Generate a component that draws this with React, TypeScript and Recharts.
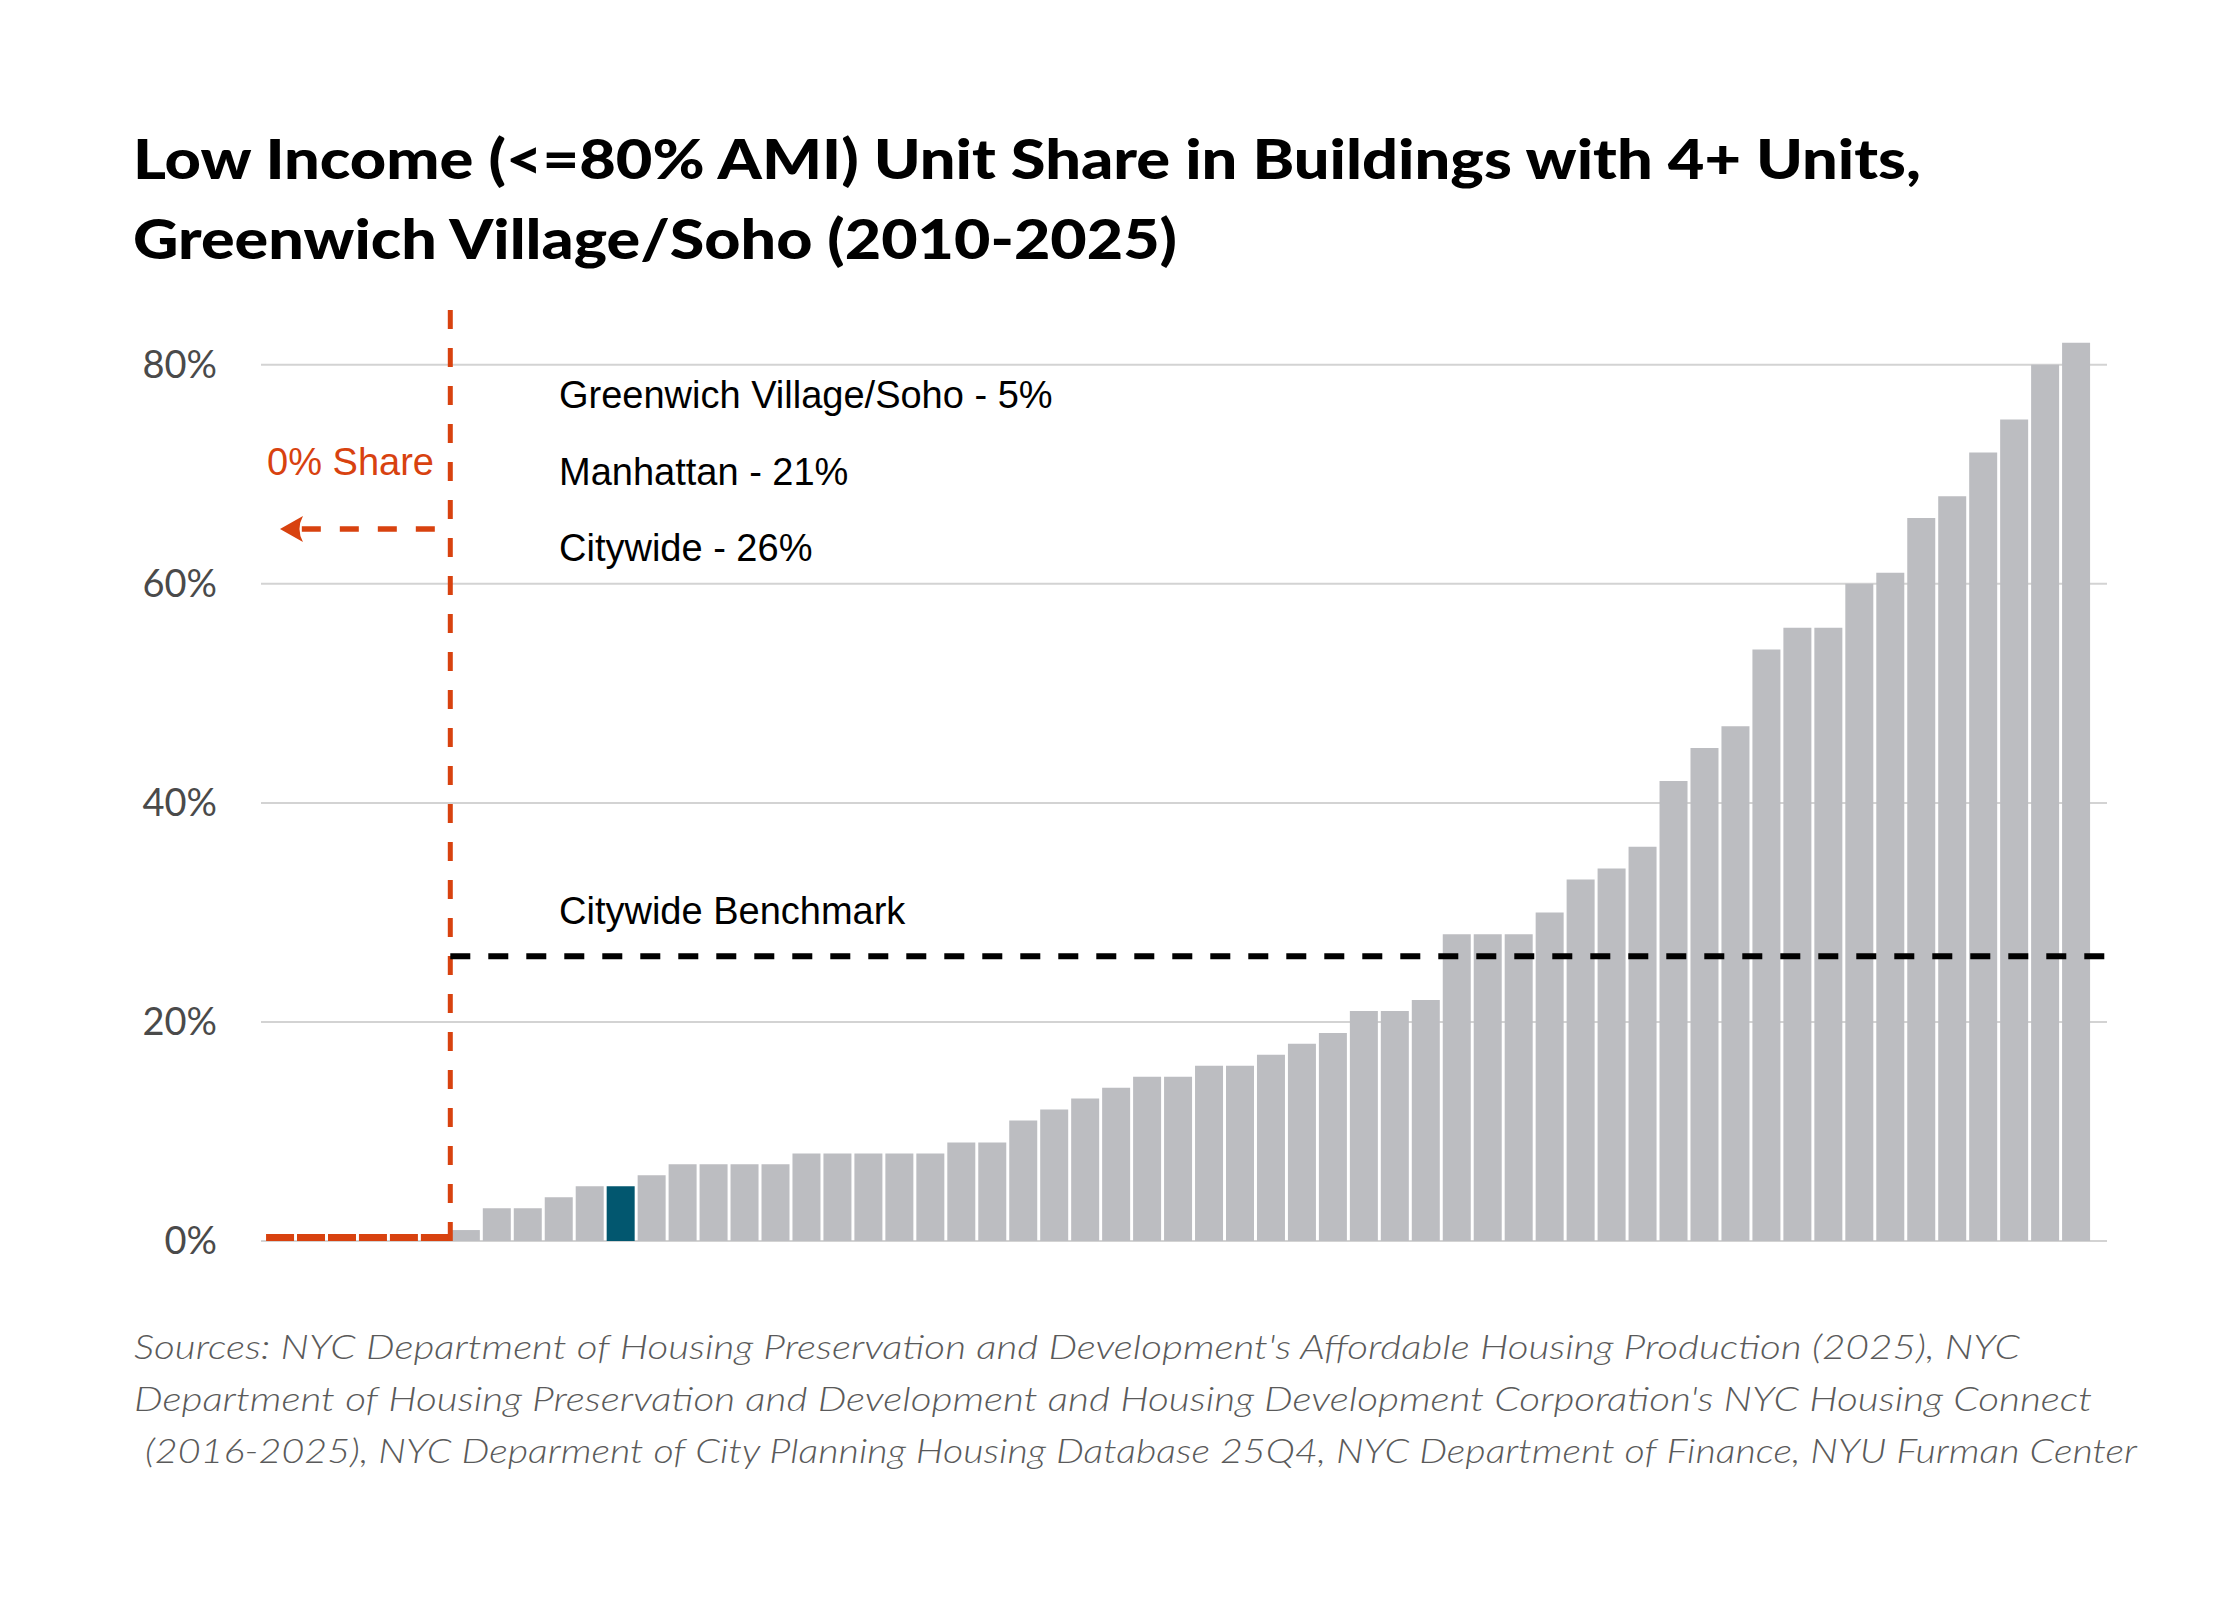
import React from "react";
import { BarChart, Bar, Cell, XAxis, YAxis, CartesianGrid, ReferenceLine } from "recharts";

// share of low income units, community districts sorted ascending (first six are 0%)
const shares = [
  0, 0, 0, 0, 0, 0,
  1, 3, 3, 4, 5, 5, 6, 7, 7, 7, 7, 8, 8, 8, 8, 8, 9, 9, 11, 12, 13, 14, 15, 15,
  16, 16, 17, 18, 19, 21, 21, 22, 28, 28, 28, 30, 33, 34, 36, 42, 45, 47, 54, 56,
  56, 60, 61, 66, 68, 72, 75, 80, 82,
];
const HIGHLIGHT_INDEX = 11; // Greenwich Village/Soho
const BENCHMARK = 26;
const yTicks = [0, 20, 40, 60, 80];
const notes = ["Greenwich Village/Soho - 5%", "Manhattan - 21%", "Citywide - 26%"];
const titleLines = [
  "Low Income (<=80% AMI) Unit Share in Buildings with 4+ Units,",
  "Greenwich Village/Soho (2010-2025)",
];
const sourceLines = [
  "Sources: NYC Department of Housing Preservation and Development's Affordable Housing Production (2025), NYC",
  "Department of Housing Preservation and Development and Housing Development Corporation's NYC Housing Connect",
  "(2016-2025), NYC Deparment of City Planning Housing Database 25Q4, NYC Department of Finance, NYU Furman Center",
];

const GRAY = "#bcbdc1";
const TEAL = "#02576f";
const ORANGE = "#d8420f";
const X_PAD = { left: 3.5, right: 15.5 };

const data = shares.map((v, i) => ({ id: i, share: v }));
const firstNonZero = shares.findIndex((v) => v > 0);
const lastIndex = shares.length - 1;

function colorFor(i: number, v: number) {
  if (v === 0) return ORANGE;
  if (i === HIGHLIGHT_INDEX) return TEAL;
  return GRAY;
}

function ArrowShape(props: any) {
  const { x1, y1, x2, y2 } = props;
  return (
    <g>
      <line x1={x1} y1={y1} x2={x2 + 20} y2={y2} stroke={ORANGE} strokeWidth={5.5} strokeDasharray="19 19" />
      <path
        d={`M${x2},${y2} L${x2 + 23},${y2 - 13} Q${x2 + 16},${y2} ${x2 + 23},${y2 + 13} Z`}
        fill={ORANGE}
      />
    </g>
  );
}

// benchmark runs on to the right edge of the plot (past the axis padding)
function BenchmarkShape(props: any) {
  const { x1, y1, x2, y2 } = props;
  return (
    <line x1={x1} y1={y1} x2={x2 + X_PAD.right} y2={y2} stroke="#000" strokeWidth={6} strokeDasharray="20 18" />
  );
}

export default function App() {
  return (
    <div style={{ position: "absolute", left: 0, top: 0, width: 2240, height: 1600, background: "#fff" }}>
      <BarChart
        width={2240}
        height={1600}
        data={data}
        margin={{ top: 310, right: 133, bottom: 359, left: 0 }}
        barCategoryGap="5%"
      >
        <CartesianGrid vertical={false} horizontalValues={yTicks} stroke="#d3d3d3" strokeWidth={2} />
        <XAxis dataKey="id" hide padding={X_PAD} />
        <YAxis
          width={261}
          domain={[0, 85]}
          ticks={yTicks}
          tickFormatter={(v) => `${v}%`}
          axisLine={false}
          tickLine={false}
          tickSize={0}
          tickMargin={44}
          tick={{ fill: "#4a4a4a", fontSize: 38, fontFamily: "Lato" }}
        />
        <Bar dataKey="share" minPointSize={7} isAnimationActive={false}>
          {data.map((d) => (
            <Cell key={d.id} fill={colorFor(d.id, d.share)} />
          ))}
        </Bar>
        <ReferenceLine
          x={firstNonZero}
          position="start"
          stroke={ORANGE}
          strokeWidth={5}
          strokeDasharray="19 19"
        />
        <ReferenceLine
          segment={[
            { x: firstNonZero - 1, y: BENCHMARK },
            { x: lastIndex, y: BENCHMARK },
          ]}
          position="end"
          shape={BenchmarkShape}
        />
        <ReferenceLine
          segment={[
            { x: firstNonZero - 1, y: 65 },
            { x: 0, y: 65 },
          ]}
          position="middle"
          shape={ArrowShape}
        />
      </BarChart>

      <svg
        width={2240}
        height={1600}
        style={{ position: "absolute", left: 0, top: 0, pointerEvents: "none" }}
      >
        <g fontFamily="Lato, 'Open Sans', sans-serif" fontWeight={900} fontSize={56} fill="#000">
          <text x={133} y={179} textLength={1788} lengthAdjust="spacingAndGlyphs">{titleLines[0]}</text>
          <text x={133} y={259} textLength={1044} lengthAdjust="spacingAndGlyphs">{titleLines[1]}</text>
        </g>

        <g fontFamily="'Liberation Sans', Arial, sans-serif" fontSize={38} fill="#000">
          {notes.map((n, i) => (
            <text key={n} x={559} y={408 + i * 76.5}>{n}</text>
          ))}
          <text x={559} y={924}>Citywide Benchmark</text>
          <text x={434} y={475} textAnchor="end" fill={ORANGE}>0% Share</text>
        </g>

        <g fontFamily="Lato, 'Open Sans', sans-serif" fontStyle="italic" fontWeight={300} fontSize={34} fill="#5a5a5a">
          <text x={134} y={1359} textLength={1886} lengthAdjust="spacingAndGlyphs">{sourceLines[0]}</text>
          <text x={134} y={1411} textLength={1958} lengthAdjust="spacingAndGlyphs">{sourceLines[1]}</text>
          <text x={145} y={1463} textLength={1992} lengthAdjust="spacingAndGlyphs">{sourceLines[2]}</text>
        </g>
      </svg>
    </div>
  );
}
